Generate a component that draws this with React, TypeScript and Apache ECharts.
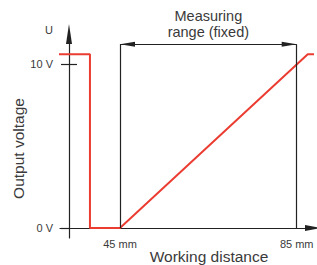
import React, { useEffect, useRef } from "react";
import * as echarts from "echarts";

// Data
const distanceMm = [31.0, 38.2, 38.2, 45, 87.5, 89.6];
const outputVolt = [10.6, 10.6, 0, 0, 10.6, 10.6];
const xTickValues = [45, 85];
const yTickValues = [0, 10];
const rangeStartMm = 45;
const rangeEndMm = 85;
const rangeArrowVolt = 11.2;
const xExtent = [31.42, 88.69];
const yExtent = [-0.61, 11.83];

const INK = "#222";
const TEXT = "#3a3a3a";
const RED = "#eb3c32";
const FONT = "Liberation Sans, Arial, sans-serif";

export default function App() {
  const ref = useRef<HTMLDivElement>(null);
  useEffect(() => {
    document.body.style.margin = "0";
    if (!ref.current) return;
    const chart = echarts.init(ref.current, null, { renderer: "svg" });
    const linePoints = distanceMm.map((d, i) => [d, outputVolt[i]]);
    chart.setOption({
      animation: false,
      textStyle: { fontFamily: FONT },
      grid: {
        left: 60,
        right: 4,
        top: 34,
        bottom: 27,
        containLabel: false,
        outerBoundsMode: "none",
      },
      xAxis: {
        type: "value",
        min: xExtent[0],
        max: xExtent[1],
        offset: -10,
        axisLine: {
          onZero: false,
          lineStyle: { color: INK, width: 1.2 },
          symbol: ["none", "triangle"],
          symbolSize: [6, 16],
        },
        axisTick: { show: false },
        splitLine: { show: false },
        axisLabel: {
          customValues: xTickValues,
          formatter: "{value} mm",
          color: TEXT,
          fontSize: 11,
          margin: 10,
          fontFamily: FONT,
        },
        name: "Working distance",
        nameLocation: "middle",
        nameGap: 20,
        nameMoveOverlap: false,
        nameTextStyle: {
          color: TEXT,
          fontSize: 15.5,
          fontFamily: FONT,
          padding: [0, 0, 0, 45],
        },
      },
      yAxis: [
        {
          type: "value",
          position: "left",
          min: yExtent[0],
          max: yExtent[1],
          offset: -9,
          axisLine: {
            onZero: false,
            lineStyle: { color: INK, width: 1.2 },
            symbol: ["none", "triangle"],
            symbolSize: [6, 20],
          },
          axisTick: {
            show: true,
            customValues: yTickValues,
            length: 8,
            lineStyle: { color: INK, width: 1.2 },
          },
          splitLine: { show: false },
          axisLabel: {
            customValues: yTickValues,
            formatter: "{value} V",
            color: TEXT,
            fontSize: 11,
            margin: 16,
            fontFamily: FONT,
          },
          name: "U",
          nameLocation: "end",
          nameGap: 4.5,
          nameMoveOverlap: false,
          nameTextStyle: {
            color: TEXT,
            fontSize: 11,
            fontFamily: FONT,
            align: "right",
            verticalAlign: "middle",
            padding: [0, 16, 0, 0],
          },
        },
        {
          type: "value",
          position: "right",
          min: yExtent[0],
          max: yExtent[1],
          offset: -244,
          axisLine: { show: false, onZero: false },
          axisTick: {
            show: true,
            customValues: [10],
            length: 8,
            lineStyle: { color: INK, width: 1.2 },
          },
          axisLabel: { show: false },
          splitLine: { show: false },
        },
      ],
      graphic: [
        {
          type: "text",
          x: 18.5,
          y: 148.5,
          rotation: Math.PI / 2,
          style: {
            text: "Output voltage",
            fill: TEXT,
            fontSize: 15.5,
            fontFamily: FONT,
            align: "center",
            verticalAlign: "middle",
          },
        },
      ],
      series: [
        {
          type: "line",
          data: [],
          z: 1,
          markLine: {
            silent: true,
            animation: false,
            symbol: ["none", "none"],
            lineStyle: { color: INK, width: 1.2, type: "solid" },
            label: { show: false },
            data: [
              [{ coord: [rangeStartMm, 0] }, { coord: [rangeStartMm, rangeArrowVolt] }],
              [{ coord: [rangeEndMm, 0] }, { coord: [rangeEndMm, rangeArrowVolt] }],
            ],
          },
        },
        {
          type: "line",
          data: [],
          z: 1,
          markLine: {
            silent: true,
            animation: false,
            symbol: ["triangle", "triangle"],
            symbolSize: [5, 15],
            symbolOffset: [[0, 7.5], [0, 7.5]],
            lineStyle: { color: INK, width: 1.2, type: "solid" },
            label: {
              show: true,
              position: "middle",
              formatter: "Measuring\nrange (fixed)",
              color: TEXT,
              fontSize: 14.5,
              lineHeight: 16,
              fontFamily: FONT,
              distance: 4,
            },
            data: [
              [{ coord: [rangeStartMm, rangeArrowVolt] }, { coord: [rangeEndMm, rangeArrowVolt] }],
            ],
          },
        },
        {
          type: "line",
          data: linePoints,
          showSymbol: false,
          symbol: "none",
          clip: false,
          z: 3,
          lineStyle: { color: RED, width: 2 },
        },
      ],
    });
    return () => chart.dispose();
  }, []);
  return (
    <div
      ref={ref}
      style={{ position: "absolute", left: 0, top: 0, width: 317, height: 265 }}
    />
  );
}
